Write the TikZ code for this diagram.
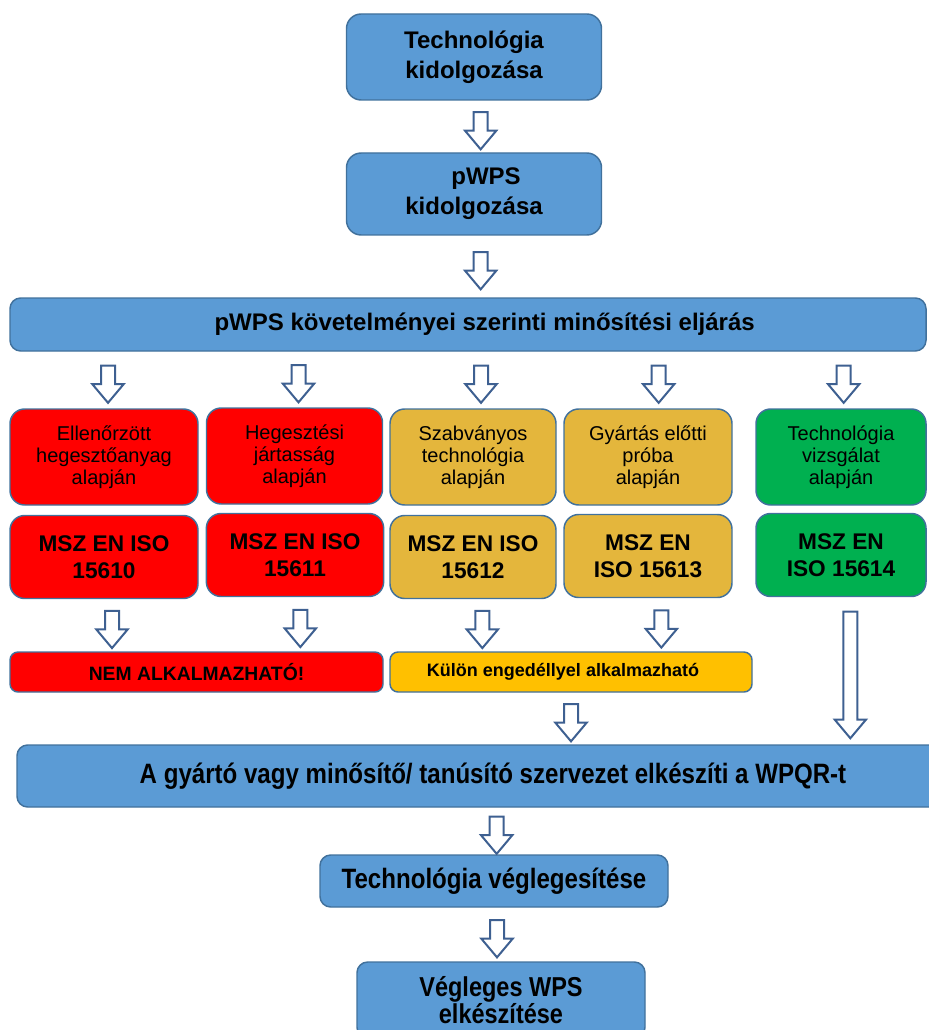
\documentclass[tikz,border=0pt]{standalone}
\usepackage{fontspec}
\setmainfont{Liberation Sans}
\newfontfamily\narrowsans[FakeStretch=0.86]{Liberation Sans}
\usetikzlibrary{calc,shapes.arrows}
\definecolor{flowblue}{RGB}{91,155,213}
\definecolor{flowline}{RGB}{65,113,156}
\definecolor{arrowline}{RGB}{62,96,145}
\definecolor{nogo}{RGB}{255,0,0}
\definecolor{gold}{RGB}{228,182,60}
\definecolor{permit}{RGB}{255,192,0}
\definecolor{okgreen}{RGB}{0,176,80}

\begin{document}
\begin{tikzpicture}[x=0.75pt, y=-0.75pt,
    flow box/.style={draw=flowline, line width=1.1pt, rounded corners=11pt, align=center, inner sep=0pt},
    blue box/.style={flow box, fill=flowblue},
    red box/.style={flow box, fill=nogo},
    gold box/.style={flow box, fill=gold},
    green box/.style={flow box, fill=okgreen},
    basis text/.style={font=\fontsize{15}{16.5}\selectfont, minimum height=72pt},
    norm text/.style={font=\fontsize{17}{20}\selectfont\bfseries, minimum height=62.25pt},
    hollow arrow/.style={single arrow, shape border rotate=270, draw=arrowline, fill=white, line width=1.5pt, inner sep=4.5pt, minimum height=28pt, minimum width=23pt, single arrow head extend=6.5pt, single arrow tip angle=80}
  ]
  \useasboundingbox (0,0) rectangle (928,1030);

  % preparation
  \node [blue box, minimum width=191.25pt, minimum height=64.5pt, font=\fontsize{18}{22.5}\selectfont\bfseries] (devtech) at (474,57) {Technológia\\kidolgozása};
  \node [blue box, minimum width=191.25pt, minimum height=61.5pt, font=\fontsize{18}{22.5}\selectfont\bfseries] (devpwps) at (474,194) {\hspace*{18pt}pWPS\\kidolgozása};
  \node [blue box, rounded corners=8pt, minimum width=687pt, minimum height=39.75pt, font=\fontsize{18}{20}\selectfont\bfseries] (qualify) at (468,324.5) {\hspace*{25pt}pWPS követelményei szerinti minősítési eljárás};

  % qualification routes
  \begin{scope}[every node/.style={basis text}]
  \node [red box, minimum width=141pt] (weldmat) at (104,457) {Ellenőrzött\\hegesztőanyag\\alapján};
  \node [red box, minimum width=132pt] (weldexp) at (294.5,456) {Hegesztési\\jártasság\\alapján};
  \node [gold box, minimum width=124.5pt] (stdproc) at (473,457) {Szabványos\\technológia\\alapján};
  \node [gold box, minimum width=126pt] (preprod) at (648,457) {Gyártás előtti\\próba\\alapján};
  \node [green box, minimum width=127.5pt] (proctest) at (841,457) {Technológia\\vizsgálat\\alapján};
  \end{scope}

  \begin{scope}[every node/.style={norm text}]
  \node [red box, minimum width=141pt] (iso10) at (104,557) {MSZ EN ISO\\15610};
  \node [red box, minimum width=133pt] (iso11) at (295,555) {MSZ EN ISO\\15611};
  \node [gold box, minimum width=124.5pt] (iso12) at (473,557) {MSZ EN ISO\\15612};
  \node [gold box, minimum width=126pt] (iso13) at (648,556) {MSZ EN\\ISO 15613};
  \node [green box, minimum width=127.5pt] (iso14) at (841,555) {MSZ EN\\ISO 15614};
  \end{scope}

  \node [red box, rounded corners=6pt, minimum width=279.75pt, minimum height=30pt, font=\fontsize{14.5}{16}\selectfont\bfseries] (notusable) at (196.5,672) {NEM ALKALMAZHATÓ!};
  \node [flow box, fill=permit, rounded corners=6pt, minimum width=271.5pt, minimum height=30pt, font=\fontsize{13.5}{16}\selectfont\bfseries] (permitted) at (571,672) {Külön engedéllyel alkalmazható\hspace*{12pt}};

  % closing steps
  \node [blue box, rounded corners=8pt, minimum width=714pt, minimum height=46.5pt, font=\fontsize{21}{24}\narrowsans\bfseries] (wpqr) at (493,776) {A gyártó vagy minősítő/ tanúsító szervezet elkészíti a WPQR-t};
  \node [blue box, rounded corners=8pt, minimum width=261pt, minimum height=39pt, font=\fontsize{21}{24}\narrowsans\bfseries] (finalize) at (494,881) {Technológia véglegesítése};
  \node [blue box, rounded corners=8pt, minimum width=216pt, minimum height=57pt, font=\fontsize{20.5}{19}\narrowsans\bfseries] (finalwps) at (501,1000) {Végleges WPS\\elkészítése};

  \begin{scope}[every node/.style={hollow arrow}]
  \path (devtech) -- node [xshift=5pt] {} (devpwps);
  \path (devpwps) -- node [xshift=5pt] {} (qualify.north -| devpwps);
  \path (qualify.south -| weldmat) -- node [xshift=3pt] {} (weldmat);
  \path (qualify.south -| weldexp) -- node [xshift=3pt] {} (weldexp);
  \path (qualify.south -| stdproc) -- node [xshift=6pt] {} (stdproc);
  \path (qualify.south -| preprod) -- node [xshift=8pt] {} (preprod);
  \path (qualify.south -| proctest) -- node [xshift=2pt] {} (proctest);
  \path (iso10) -- node [xshift=6pt] {} (iso10 |- notusable.north);
  \path (iso11) -- node [xshift=4pt] {} (iso11 |- notusable.north);
  \path (iso12) -- node [xshift=7pt] {} (iso12 |- permitted.north);
  \path (iso13) -- node [xshift=10pt] {} (iso13 |- permitted.north);
  \path (iso14) -- node [xshift=7pt, minimum height=95pt] {} (iso14 |- wpqr.north);
  \path (permitted) -- node {} (permitted |- wpqr.north);
  \path (wpqr.south -| finalize) -- node [xshift=2pt] {} (finalize);
  \path (finalwps |- finalize.south) -- node [xshift=-3pt] {} (finalwps);
  \end{scope}
\end{tikzpicture}
\end{document}
